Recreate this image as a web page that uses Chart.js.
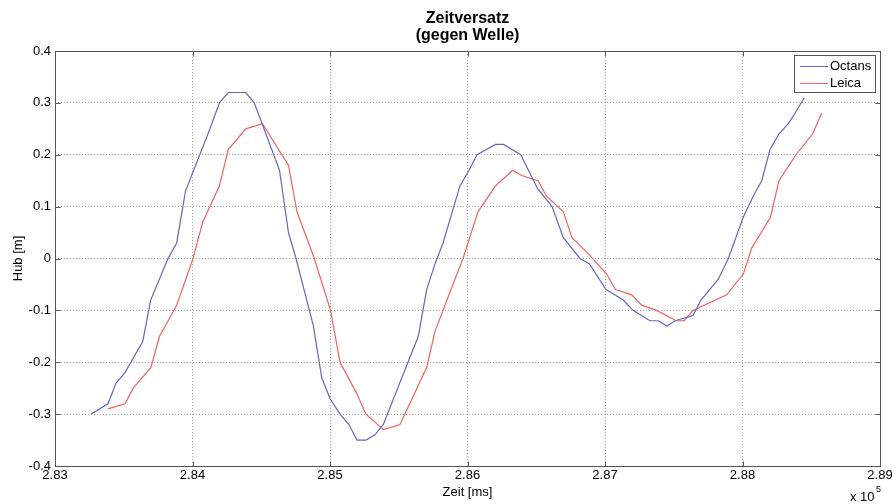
<!DOCTYPE html>
<html>
<head>
<meta charset="utf-8">
<script src="https://cdn.jsdelivr.net/npm/chart.js@4"></script>
<style>
  html, body { margin: 0; padding: 0; background: #fff; }
</style>
</head>
<body>
<canvas id="zeitChart" width="892" height="504"></canvas>
<script>
// Zeit in ms, Hub in m
const octansTime = [283262, 283385, 283444, 283509, 283638, 283696, 283822, 283885, 283949, 284127,
    284196, 284260, 284387, 284449, 284633, 284698, 284753, 284879, 284940, 285000,
    285073, 285138, 285196, 285262, 285327, 285388, 285642, 285703, 285764, 285822,
    285945, 286011, 286069, 286204, 286262, 286387, 286509, 286615, 286697, 286818,
    286886, 287007, 287133, 287204, 287327, 287388, 287451, 287509, 287640, 287698,
    287824, 287897, 288006, 288078, 288140, 288200, 288265, 288333, 288382, 288449];
const octansHub = [-0.30, -0.28, -0.24, -0.22, -0.16, -0.08, 0.0, 0.03, 0.13, 0.25,
    0.30, 0.32, 0.32, 0.30, 0.17, 0.05, 0.0, -0.13, -0.23, -0.27,
    -0.30, -0.32, -0.35, -0.35, -0.34, -0.32, -0.15, -0.06, -0.01, 0.03,
    0.14, 0.17, 0.20, 0.22, 0.22, 0.20, 0.135, 0.10, 0.04, 0.0,
    -0.01, -0.06, -0.08, -0.10, -0.12, -0.12, -0.13, -0.12, -0.11, -0.08,
    -0.04, 0.0, 0.08, 0.12, 0.15, 0.21, 0.24, 0.26, 0.28, 0.31];

const leicaTime = [283385, 283509, 283569, 283698, 283760, 283885, 284004, 284074, 284196, 284260,
    284387, 284509, 284698, 284760, 284886, 285004, 285073, 285194, 285262, 285388,
    285509, 285703, 285764, 285967, 286076, 286204, 286329, 286394, 286513, 286575,
    286697, 286760, 286876, 287012, 287076, 287194, 287267, 287376, 287516, 287577,
    287640, 287885, 288006, 288067, 288204, 288265, 288389, 288509, 288576];
const leicaHub = [-0.29, -0.28, -0.25, -0.21, -0.15, -0.09, 0.0, 0.07, 0.14, 0.21,
    0.25, 0.26, 0.18, 0.09, 0.0, -0.10, -0.20, -0.26, -0.30, -0.33,
    -0.32, -0.21, -0.14, 0.0, 0.09, 0.14, 0.17, 0.16, 0.15, 0.12,
    0.09, 0.04, 0.01, -0.03, -0.06, -0.07, -0.09, -0.10, -0.12, -0.12,
    -0.10, -0.07, -0.03, 0.02, 0.08, 0.15, 0.20, 0.24, 0.28];

const xTicks = [283000, 284000, 285000, 286000, 287000, 288000, 289000];
const xTickLabels = ['2.83', '2.84', '2.85', '2.86', '2.87', '2.88', '2.89'];
const yTicks = [-0.4, -0.3, -0.2, -0.1, 0, 0.1, 0.2, 0.3, 0.4];
const yTickLabels = ['-0.4', '-0.3', '-0.2', '-0.1', '0', '0.1', '0.2', '0.3', '0.4'];

const seriesNames = ['Octans', 'Leica'];
const titleLines = ['Zeitversatz', '(gegen Welle)'];

const blue = '#6666c2';
const red = '#f06262';
const axisColor = '#555555';
const FONT = '"Liberation Sans", Arial, sans-serif';

function toPoints(xs, ys) {
    return xs.map((x, i) => ({ x: x, y: ys[i] }));
}

// MATLAB-artiger Rahmen, Beschriftung und Legende
const matlabDecor = {
    id: 'matlabDecor',
    afterDraw(chart) {
        const ctx = chart.ctx;
        const a = chart.chartArea;
        const xs = chart.scales.x;
        const ys = chart.scales.y;
        const L = Math.round(a.left) + 0.5, R = Math.round(a.right) + 0.5;
        const T = Math.round(a.top) + 0.5, B = Math.round(a.bottom) + 0.5;

        ctx.save();
        ctx.strokeStyle = axisColor;
        ctx.lineWidth = 1;
        ctx.strokeRect(L, T, R - L, B - T);

        // Ticks nach innen
        ctx.beginPath();
        xTicks.forEach(v => {
            const px = Math.round(xs.getPixelForValue(v)) + 0.5;
            ctx.moveTo(px, B); ctx.lineTo(px, B - 5);
            ctx.moveTo(px, T); ctx.lineTo(px, T + 5);
        });
        yTicks.forEach(v => {
            const py = Math.round(ys.getPixelForValue(v)) + 0.5;
            ctx.moveTo(L, py); ctx.lineTo(L + 5, py);
            ctx.moveTo(R, py); ctx.lineTo(R - 5, py);
        });
        ctx.stroke();

        // Titel
        ctx.fillStyle = '#000';
        ctx.textAlign = 'center';
        ctx.textBaseline = 'alphabetic';
        ctx.font = 'bold 16px ' + FONT;
        const cx = (a.left + a.right) / 2;
        ctx.fillText(titleLines[0], cx, 23);
        ctx.fillText(titleLines[1], cx, 40);

        // Achsenbeschriftung
        ctx.font = '13px ' + FONT;
        ctx.fillText('Zeit [ms]', cx, 496);
        ctx.save();
        ctx.translate(22, (a.top + a.bottom) / 2);
        ctx.rotate(-Math.PI / 2);
        ctx.fillText('Hub [m]', 0, 0);
        ctx.restore();

        ctx.textAlign = 'left';
        ctx.fillText('x 10', 850, 501);
        ctx.font = '9px ' + FONT;
        ctx.fillText('5', 876, 492);

        // Legende
        ctx.fillStyle = '#fff';
        ctx.fillRect(794.5, 55.5, 81, 37);
        ctx.strokeStyle = axisColor;
        ctx.strokeRect(794.5, 55.5, 81, 37);
        const cols = [blue, red];
        ctx.font = '13px ' + FONT;
        ctx.textBaseline = 'middle';
        seriesNames.forEach((name, i) => {
            const y = 66.5 + i * 17;
            ctx.strokeStyle = cols[i];
            ctx.beginPath();
            ctx.moveTo(800, y); ctx.lineTo(828, y);
            ctx.stroke();
            ctx.fillStyle = '#000';
            ctx.fillText(name, 830, y);
        });
        ctx.restore();
    }
};

const ctx = document.getElementById('zeitChart').getContext('2d');

new Chart(ctx, {
    type: 'scatter',
    data: {
        datasets: [{
            label: seriesNames[0],
            data: toPoints(octansTime, octansHub),
            showLine: true,
            borderColor: blue,
            backgroundColor: blue,
            borderWidth: 1.2,
            pointRadius: 0
        }, {
            label: seriesNames[1],
            data: toPoints(leicaTime, leicaHub),
            showLine: true,
            borderColor: red,
            backgroundColor: red,
            borderWidth: 1.2,
            pointRadius: 0
        }]
    },
    options: {
        responsive: false,
        animation: false,
        layout: { padding: { top: 51, right: 12, left: 0, bottom: 0 } },
        plugins: {
            legend: { display: false },
            title: { display: false },
            tooltip: { enabled: false }
        },
        scales: {
            x: {
                type: 'linear',
                min: 283000,
                max: 289000,
                afterBuildTicks: s => { s.ticks = xTicks.map(v => ({ value: v })); },
                afterFit: s => { s.height = 38; s.paddingLeft = 0; s.paddingRight = 0; },
                ticks: {
                    callback: (v, i) => xTickLabels[i],
                    autoSkip: false,
                    maxRotation: 0,
                    padding: 2,
                    color: '#000',
                    font: { family: FONT, size: 13 }
                },
                grid: { color: '#a8a8a8', drawTicks: false },
                border: { display: false, dash: [1, 2] }
            },
            y: {
                type: 'linear',
                min: -0.4,
                max: 0.4,
                afterBuildTicks: s => { s.ticks = yTicks.map(v => ({ value: v })); },
                afterFit: s => { s.width = 55; s.paddingTop = 0; s.paddingBottom = 0; },
                ticks: {
                    callback: (v, i) => yTickLabels[i],
                    autoSkip: false,
                    padding: 4,
                    color: '#000',
                    font: { family: FONT, size: 13 }
                },
                grid: { color: '#a8a8a8', drawTicks: false },
                border: { display: false, dash: [1, 2] }
            }
        }
    },
    plugins: [matlabDecor]
});
</script>
</body>
</html>
